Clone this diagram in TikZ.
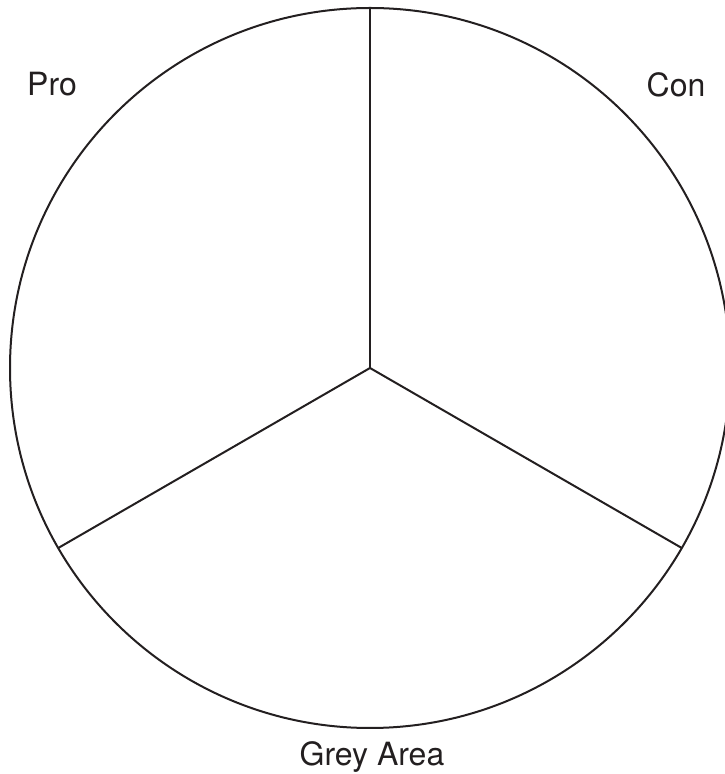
\documentclass[tikz,border=0pt]{standalone}
\usepackage{fontspec}
\setmainfont{TeX Gyre Heros}
\definecolor{ink}{HTML}{231F20}
\begin{document}
\begin{tikzpicture}[x=1pt,y=1pt,
  rim/.style={draw=ink,line width=2pt},
  spoke/.style={draw=ink,line width=2pt},
  lbl/.style={anchor=base,inner sep=0pt,text=ink,font=\fontsize{32}{38}\selectfont}]
\useasboundingbox (0,0) rectangle (725,774);
\clip (0,0) rectangle (725,774);
\coordinate (c) at (370,406);
\draw[rim] (c) circle[radius=360];
\path (c) ++(90:360) coordinate (t) (c) ++(210:360) coordinate (l) (c) ++(-30:360) coordinate (r);
\draw[spoke] (c) -- (t);
\draw[spoke] (c) -- (l);
\draw[spoke] (c) -- (r);
\node[lbl] (pro) at (52,678) {Pro};
\node[lbl] (con) at (676,677) {Con};
\node[lbl] (grey) at (372,9) {Grey Area};
\end{tikzpicture}
\end{document}
